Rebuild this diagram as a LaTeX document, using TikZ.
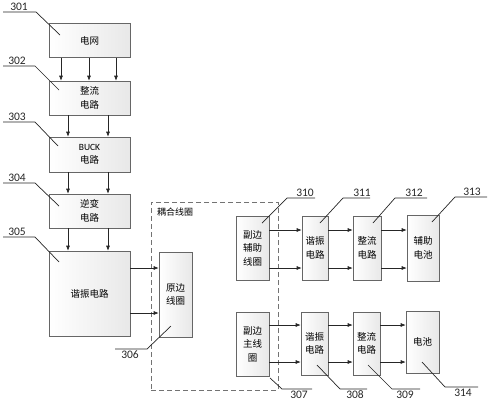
\documentclass[tikz,border=0pt]{standalone}
\usepackage{fontspec}
\setmainfont{Noto Sans CJK SC}
\newfontfamily\numfont{Carlito}
\usetikzlibrary{arrows.meta}
\begin{document}
\begin{tikzpicture}[x=1pt,y=-1pt,
 box/.style={draw=black!60, line width=0.6pt, left color=white, right color=black!9, align=center, font=\fontsize{9.5}{13.5}\selectfont, inner sep=0pt},
 dashbox/.style={draw=black!55, line width=0.8pt, dash pattern=on 5pt off 3pt, inner sep=0pt},
 arr/.style={-{Latex[length=5pt,width=4pt]}, line width=0.6pt, black!85},
 lead/.style={line width=0.7pt, black!85},
 num/.style={font=\numfont\fontsize{11.5}{12}\selectfont, inner sep=0pt, text=black!85},
 coupcaption/.style={font=\fontsize{9}{10}\selectfont, inner sep=0pt, anchor=west}]
\useasboundingbox (0,0) rectangle (488,400);

% left column
\node[box, minimum width=81, minimum height=34] (n301) at (89.5,40.5) {电网};
\node[box, minimum width=81, minimum height=34] (n302) at (89.5,98) {整流\\电路};
\node[box, minimum width=81, minimum height=35] (n303) at (89.5,154.5) {{\numfont\fontsize{9.5}{10}\selectfont BUCK}\\电路};
\node[box, minimum width=81, minimum height=34] (n304) at (89.5,211) {逆变\\电路};
\node[box, minimum width=81, minimum height=85] (n305) at (89.5,293.5) {谐振电路};

% coupling coil
\node[dashbox, minimum width=127, minimum height=188] (ncoup) at (214.5,296) {};
\node[coupcaption] (tcoup) at (157,212) {耦合线圈};
\node[box, minimum width=33, minimum height=85] (n306) at (175.5,294.5) {原边\\线圈};
\node[box, minimum width=33, minimum height=64] (n310) at (252.5,248) {副边\\辅助\\线圈};
\node[box, minimum width=33, minimum height=64] (n307) at (252.5,344) {副边\\主线\\圈};

% right chains
\node[box, minimum width=26, minimum height=64] (n311) at (315,248) {谐振\\电路};
\node[box, minimum width=28, minimum height=64] (n312) at (367,248) {整流\\电路};
\node[box, minimum width=32, minimum height=66] (n313) at (423,248) {辅助\\电池};
\node[box, minimum width=27, minimum height=63] (n308) at (314.5,343.5) {谐振\\电路};
\node[box, minimum width=27, minimum height=63] (n309) at (366.5,343.5) {整流\\电路};
\node[box, minimum width=33, minimum height=62] (n314) at (422.5,342) {电池};

% vertical arrows
\foreach \x in {61,89,116} \draw[arr] (n301.south -| \x,0) -- (n302.north -| \x,0);
\foreach \x in {68,108} {
  \draw[arr] (n302.south -| \x,0) -- (n303.north -| \x,0);
  \draw[arr] (n303.south -| \x,0) -- (n304.north -| \x,0);
  \draw[arr] (n304.south -| \x,0) -- (n305.north -| \x,0);
}
% horizontal arrows
\foreach \y in {268,313} \draw[arr] (n305.east |- 0,\y) -- (n306.west |- 0,\y);
\foreach \y in {230,268} {
  \draw[arr] (n310.east |- 0,\y) -- (n311.west |- 0,\y);
  \draw[arr] (n311.east |- 0,\y) -- (n312.west |- 0,\y);
  \draw[arr] (n312.east |- 0,\y) -- (n313.west |- 0,\y);
}
\foreach \y in {325,362} {
  \draw[arr] (n307.east |- 0,\y) -- (n308.west |- 0,\y);
  \draw[arr] (n308.east |- 0,\y) -- (n309.west |- 0,\y);
  \draw[arr] (n309.east |- 0,\y) -- (n314.west |- 0,\y);
}

% left reference labels
\node[num] (l301) at (19,7) {301};
\draw[lead] (3,12) -- (36,12) -- (60,35);
\node[num] (l302) at (17,61) {302};
\draw[lead] (3,66) -- (35,66) -- (59,90);
\node[num] (l303) at (17,117) {303};
\draw[lead] (3,122) -- (35,122) -- (58,146);
\node[num] (l304) at (17,178) {304};
\draw[lead] (3,183) -- (35,183) -- (59,206);
\node[num] (l305) at (17,232) {305};
\draw[lead] (3,237) -- (35,237) -- (59,262);

% right reference labels
\node[num] (l306) at (130,355) {306};
\draw[lead] (171,326) -- (147,349) -- (115,349);
\node[num] (l310) at (305,193) {310};
\draw[lead] (262,223) -- (287,198) -- (315,198);
\node[num] (l311) at (362,193) {311};
\draw[lead] (320,223) -- (343,198) -- (370,198);
\node[num] (l312) at (414,193) {312};
\draw[lead] (373,223) -- (395,198) -- (427,198);
\node[num] (l313) at (472,192) {313};
\draw[lead] (432,222) -- (455,197) -- (487,197);
\node[num] (l307) at (299,394.5) {307};
\draw[lead] (270,378) -- (282,389) -- (312,389);
\node[num] (l308) at (355,394.5) {308};
\draw[lead] (317,365) -- (340,389) -- (367,389);
\node[num] (l309) at (405,394.5) {309};
\draw[lead] (368,365) -- (392,389) -- (420,389);
\node[num] (l314) at (463,393) {314};
\draw[lead] (422,362) -- (445,387) -- (478,387);
\end{tikzpicture}
\end{document}
